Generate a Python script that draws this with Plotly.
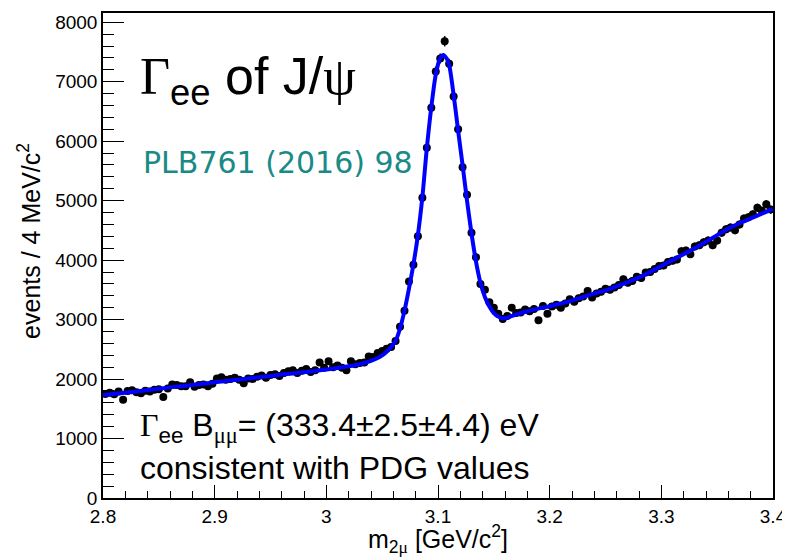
import numpy as np
import plotly.graph_objects as go

# ---- data: bin centres (4 MeV bins from 2.8 to 3.4 GeV) and counts ----
bin_lo = 2.8
bin_width = 0.004
counts = [
    1750, 1770, 1745, 1790, 1650, 1800, 1810, 1780, 1760, 1805,
    1790, 1820, 1830, 1700, 1840, 1910, 1900, 1880, 1880, 1945,
    1870, 1900, 1910, 1880, 1920, 2010, 2030, 1990, 2000, 2020,
    1990, 1930, 2010, 2000, 2040, 2060, 2020, 2070, 2080, 2050,
    2100, 2130, 2150, 2100, 2140, 2170, 2120, 2150, 2280, 2190,
    2300, 2200, 2230, 2190, 2150, 2300, 2250, 2270, 2280, 2380,
    2370, 2440, 2470, 2510, 2540, 2640, 2880, 3150, 3640, 3920,
    4400, 5050, 5890, 6560, 7170, 7390, 7680, 7300, 6750, 6200,
    5560, 5100, 4460, 4050, 3600, 3500, 3290, 3200, 3100, 3010,
    3060, 3200, 3110, 3120, 3170, 3140, 3180, 2990, 3230, 3100,
    3220, 3250, 3200, 3270, 3340, 3300, 3360, 3390, 3480, 3370,
    3440, 3470, 3520, 3500, 3540, 3580, 3680, 3620, 3650, 3720,
    3700, 3790, 3800, 3850, 3900, 3910, 3970, 3990, 4010, 4150,
    4160, 4100, 4230, 4250, 4300, 4330, 4250, 4330, 4460, 4520,
    4550, 4500, 4600, 4700, 4720, 4770, 4880, 4830, 4940, 4850,
]
mass = [round(bin_lo + bin_width * (i + 0.5), 4) for i in range(len(counts))]
errors = list(np.sqrt(counts))

# fit curve at these masses
fit_mass = [2.80, 2.82, 2.84, 2.86, 2.88, 2.90, 2.92, 2.94, 2.96, 2.98,
            3.00, 3.02, 3.03, 3.04, 3.045, 3.05, 3.054, 3.058, 3.062, 3.066,
            3.070, 3.074, 3.078, 3.082, 3.086, 3.090, 3.094, 3.098, 3.102, 3.105,
            3.108, 3.110, 3.114, 3.118, 3.122, 3.126, 3.130, 3.134, 3.138, 3.142,
            3.146, 3.150, 3.154, 3.158, 3.162, 3.17, 3.18, 3.19, 3.20, 3.21,
            3.22, 3.23, 3.24, 3.25, 3.26, 3.27, 3.28, 3.29, 3.30, 3.31,
            3.32, 3.33, 3.34, 3.35, 3.36, 3.37, 3.38, 3.39, 3.40]
fit_vals = [1730, 1770, 1815, 1860, 1900, 1945, 1990, 2030, 2075, 2115,
            2160, 2215, 2250, 2305, 2345, 2400, 2460, 2540, 2640, 2850,
            3150, 3520, 3930, 4420, 5060, 5880, 6570, 7120, 7400, 7450,
            7380, 7280, 6780, 6180, 5600, 5000, 4450, 3980, 3620, 3380,
            3220, 3110, 3050, 3020, 3035, 3085, 3140, 3185, 3225, 3270,
            3320, 3380, 3440, 3490, 3560, 3630, 3710, 3800, 3900, 4000,
            4100, 4200, 4310, 4420, 4530, 4620, 4700, 4780, 4860]

x_ticks = [2.8, 2.9, 3.0, 3.1, 3.2, 3.3, 3.4]
y_ticks = [0, 1000, 2000, 3000, 4000, 5000, 6000, 7000, 8000]

SANS = "Liberation Sans, Arial, Helvetica, sans-serif"
SERIF = "Liberation Serif, Times New Roman, serif"

fig = go.Figure()
fig.add_trace(go.Scatter(
    x=mass, y=counts, mode="markers",
    marker=dict(color="black", size=8),
    error_y=dict(type="data", array=errors, visible=True, color="black",
                 thickness=1.5, width=0),
    showlegend=False,
))
fig.add_trace(go.Scatter(
    x=fit_mass, y=fit_vals, mode="lines",
    line=dict(color="#0000ff", width=4, shape="spline", smoothing=0.8),
    showlegend=False,
))

# the page body has an 8px margin, so the figure is 8px smaller and offset
fig.update_layout(
    width=782, height=549,
    margin=dict(l=95, r=13, t=3, b=59),
    paper_bgcolor="white", plot_bgcolor="white",
    font=dict(family=SANS, color="black", size=19),
)
fig.update_xaxes(
    range=[2.8, 3.4], tickvals=x_ticks, ticktext=[f"{v:g}" for v in x_ticks],
    ticks="inside", ticklen=13, tickwidth=1.3, tickcolor="black",
    ticklabeloverflow="allow",
    minor=dict(dtick=0.02, tick0=2.8, ticks="inside", ticklen=7, tickwidth=1.3, tickcolor="black", showgrid=False),
    showline=True, linecolor="black", linewidth=1.5, mirror=True,
    showgrid=False, zeroline=False, tickfont=dict(size=19, family=SANS),
)
fig.update_yaxes(
    range=[0, 8155], tickvals=y_ticks,
    ticks="inside", ticklen=21, tickwidth=1.3, tickcolor="black",
    minor=dict(dtick=200, tick0=0, ticks="inside", ticklen=11, tickwidth=1.3, tickcolor="black", showgrid=False),
    showline=True, linecolor="black", linewidth=1.5, mirror=True,
    showgrid=False, zeroline=False, tickfont=dict(size=19, family=SANS),
)

def G(s):
    return f"<span style='font-family:{SERIF}'>{s}</span>"

annotations = [
    dict(text="events / 4 MeV/c<sup>2</sup>", x=-0.1105, y=0.53, textangle=-90,
         font=dict(size=25)),
    dict(text=f"m<sub>2{G('μ')}</sub> [GeV/c<sup>2</sup>]", x=0.5, y=-0.084,
         font=dict(size=25)),
    dict(text=f"{G('Γ')}<sub>ee</sub> of J/{G('ψ')}", x=0.052, y=0.862,
         xanchor="left", font=dict(size=52)),
    dict(text="PLB761 (2016) 98", x=0.056, y=0.692, xanchor="left",
         font=dict(size=30, family="DejaVu Sans, Verdana, sans-serif", color="#1a8a86")),
    dict(text=f"{G('Γ')}<sub>ee</sub> B<sub>{G('μμ')}</sub>= (333.4±2.5±4.4) eV",
         x=0.052, y=0.145, xanchor="left", font=dict(size=32)),
    dict(text="consistent with PDG values", x=0.052, y=0.062, xanchor="left",
         font=dict(size=32)),
]
for a in annotations:
    a.setdefault("xanchor", "center")
    fig.add_annotation(xref="paper", yref="paper", showarrow=False, yanchor="middle", **a)

fig.write_html("out.html")
